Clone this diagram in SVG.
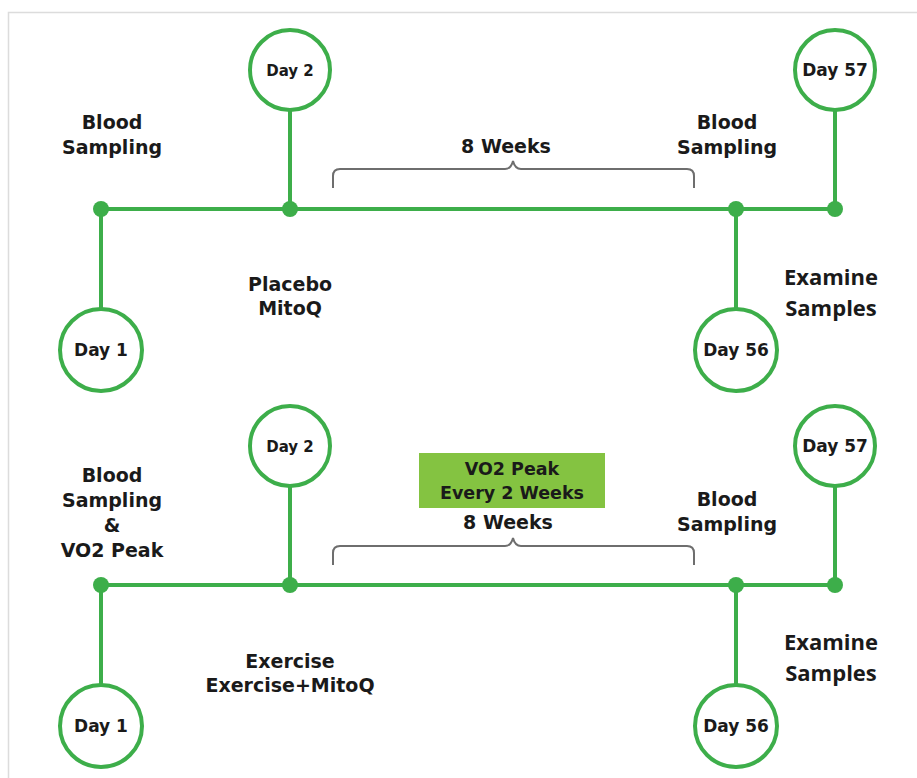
<svg xmlns="http://www.w3.org/2000/svg" width="917" height="778" viewBox="0 0 917 778">
<style>
.ln{stroke:#3dae4a;stroke-width:4;fill:none}
.dot{fill:#3dae4a}
.ring{fill:#fff;stroke:#3dae4a;stroke-width:4}
.brace{fill:none;stroke:#6e6e6e;stroke-width:2}
.t{font-family:"DejaVu Sans","Verdana",sans-serif;font-weight:bold;font-size:19px;fill:#1a1a1a;text-anchor:middle}
.d{font-family:"DejaVu Sans","Verdana",sans-serif;font-weight:bold;font-size:17px;fill:#1a1a1a;text-anchor:middle}
.d2{font-size:15px}
.b{font-size:17.5px}
.o{font-family:"Open Sans","Liberation Sans",sans-serif;font-weight:bold;font-size:22px;fill:#1a1a1a;text-anchor:middle}
</style>
<rect x="0" y="0" width="917" height="778" fill="#fff"/>
<path d="M8.5 778 V12.5 H917" fill="none" stroke="#dcdcdc" stroke-width="1.5"/>
<g id="connectors">
  <path class="ln" d="M101 209 H835 M290 110 V209 M835 110 V209 M101 209 V309 M736 209 V309"/>
  <path class="ln" d="M101 585 H835 M290 486 V585 M835 486 V585 M101 585 V685 M736 585 V685"/>
  <circle class="dot" cx="101" cy="209" r="8"/>
  <circle class="dot" cx="290" cy="209" r="8"/>
  <circle class="dot" cx="736" cy="209" r="8"/>
  <circle class="dot" cx="835" cy="209" r="8"/>
  <circle class="dot" cx="101" cy="585" r="8"/>
  <circle class="dot" cx="290" cy="585" r="8"/>
  <circle class="dot" cx="736" cy="585" r="8"/>
  <circle class="dot" cx="835" cy="585" r="8"/>
  <path class="brace" d="M333 188 V176 Q333 169 340 169 H505 Q511 169 513 161 Q515 169 521 169 H687 Q694 169 694 176 V188"/>
  <path class="brace" d="M333 565 V553 Q333 546 340 546 H505 Q511 546 513 538 Q515 546 521 546 H687 Q694 546 694 553 V565"/>
</g>
<g id="top-day2"><circle class="ring" cx="290" cy="70" r="40"/><text class="d d2" x="290" y="76">Day 2</text></g>
<g id="top-day57"><circle class="ring" cx="835" cy="70" r="40"/><text class="d" x="835" y="76">Day 57</text></g>
<g id="top-day1"><circle class="ring" cx="101" cy="350" r="41"/><text class="d" x="101" y="356">Day 1</text></g>
<g id="top-day56"><circle class="ring" cx="736" cy="350" r="41"/><text class="d" x="736" y="356">Day 56</text></g>
<g id="top-labels">
  <text class="t" x="112" y="129">Blood</text>
  <text class="t" x="112" y="154">Sampling</text>
  <text class="t" x="506" y="153">8 Weeks</text>
  <text class="t" x="727" y="129">Blood</text>
  <text class="t" x="727" y="154">Sampling</text>
  <text class="t" x="290" y="291">Placebo</text>
  <text class="t" x="290" y="315">MitoQ</text>
  <text class="o" x="831" y="285">Examine</text>
  <text class="o" x="831" y="316">Samples</text>
</g>
<g id="bot-day2"><circle class="ring" cx="290" cy="446" r="40"/><text class="d d2" x="290" y="452">Day 2</text></g>
<g id="bot-day57"><circle class="ring" cx="835" cy="446" r="40"/><text class="d" x="835" y="452">Day 57</text></g>
<g id="bot-day1"><circle class="ring" cx="101" cy="726" r="41"/><text class="d" x="101" y="732">Day 1</text></g>
<g id="bot-day56"><circle class="ring" cx="736" cy="726" r="41"/><text class="d" x="736" y="732">Day 56</text></g>
<g id="vo2-box">
  <rect x="419" y="453" width="186" height="55" fill="#84c341"/>
  <text class="t b" x="512" y="475">VO2 Peak</text>
  <text class="t b" x="512" y="499">Every 2 Weeks</text>
</g>
<g id="bot-labels">
  <text class="t" x="112" y="482">Blood</text>
  <text class="t" x="112" y="507">Sampling</text>
  <text class="t" x="112" y="532">&amp;</text>
  <text class="t" x="112" y="557">VO2 Peak</text>
  <text class="t" x="508" y="529">8 Weeks</text>
  <text class="t" x="727" y="506">Blood</text>
  <text class="t" x="727" y="531">Sampling</text>
  <text class="t" x="290" y="668">Exercise</text>
  <text class="t" x="290" y="692">Exercise+MitoQ</text>
  <text class="o" x="831" y="650">Examine</text>
  <text class="o" x="831" y="681">Samples</text>
</g>
</svg>
